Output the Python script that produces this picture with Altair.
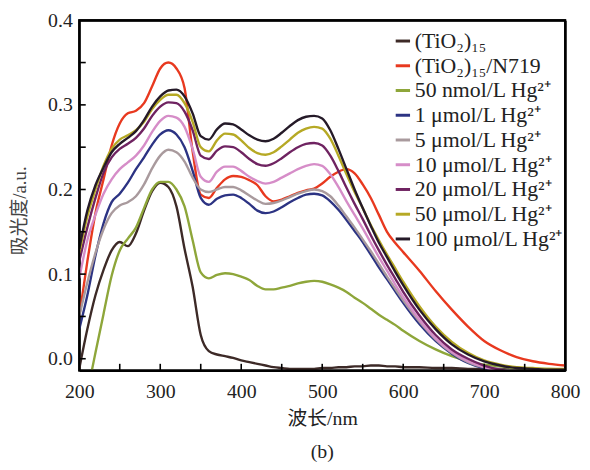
import altair as alt
import pandas as pd

NM = [200, 210, 220, 230, 240, 250, 260, 270, 280, 290, 300, 310, 320, 330, 340, 350, 360, 370, 380, 390,
      400, 410, 420, 430, 440, 450, 460, 470, 480, 490, 500, 510, 520, 530, 540, 550, 560, 570, 580, 590,
      600, 620, 640, 660, 680, 700, 720, 740, 760, 780, 800]

TIO2 = [-0.012, 0.035, 0.075, 0.105, 0.128, 0.138, 0.133, 0.148, 0.175, 0.198, 0.208, 0.203, 0.18, 0.13, 0.085, 0.028, 0.009, 0.005, 0.003, 0.001,
        -0.002, -0.004, -0.006, -0.008, -0.01, -0.011, -0.012, -0.012, -0.012, -0.012, -0.011, -0.011, -0.01, -0.01, -0.009, -0.009, -0.008, -0.008, -0.009, -0.009,
        -0.01, -0.01, -0.011, -0.011, -0.012, -0.012, -0.012, -0.013, -0.013, -0.013, -0.013]
N719 = [0.05, 0.115, 0.172, 0.212, 0.252, 0.278, 0.29, 0.293, 0.302, 0.322, 0.343, 0.35, 0.343, 0.32, 0.245, 0.194, 0.19, 0.202, 0.212, 0.216,
        0.215, 0.211, 0.205, 0.192, 0.186, 0.188, 0.192, 0.196, 0.199, 0.201, 0.207, 0.215, 0.221, 0.224, 0.219, 0.206, 0.19, 0.17, 0.15, 0.137,
        0.126, 0.104, 0.08, 0.058, 0.038, 0.021, 0.01, 0.002, -0.003, -0.006, -0.008]
HG_50N = [-0.09, -0.04, 0.007, 0.053, 0.098, 0.128, 0.142, 0.155, 0.178, 0.2, 0.209, 0.209, 0.2, 0.18, 0.14, 0.102, 0.095, 0.099, 0.101, 0.1,
          0.097, 0.093, 0.086, 0.082, 0.082, 0.084, 0.086, 0.089, 0.091, 0.092, 0.091, 0.088, 0.084, 0.079, 0.072, 0.066, 0.059, 0.052, 0.046, 0.04,
          0.033, 0.021, 0.011, 0.003, -0.003, -0.007, -0.009, -0.011, -0.012, -0.012, -0.013]
HG_1 = [0.035, 0.075, 0.122, 0.16, 0.185, 0.195, 0.208, 0.224, 0.238, 0.253, 0.265, 0.27, 0.265, 0.25, 0.222, 0.19, 0.182, 0.189, 0.193, 0.194,
        0.19, 0.183, 0.175, 0.172, 0.174, 0.179, 0.185, 0.19, 0.194, 0.195, 0.193, 0.186, 0.176, 0.164, 0.151, 0.138, 0.123, 0.108, 0.094, 0.08,
        0.066, 0.041, 0.021, 0.006, -0.005, -0.011, -0.014, -0.016, -0.016, -0.016, -0.016]
HG_5 = [0.05, 0.09, 0.125, 0.153, 0.172, 0.181, 0.185, 0.192, 0.206, 0.225, 0.24, 0.247, 0.244, 0.233, 0.214, 0.2, 0.197, 0.2, 0.203, 0.203,
        0.199, 0.193, 0.187, 0.183, 0.184, 0.187, 0.191, 0.195, 0.198, 0.2, 0.198, 0.192, 0.181, 0.168, 0.155, 0.141, 0.127, 0.112, 0.097, 0.083,
        0.069, 0.044, 0.023, 0.007, -0.004, -0.01, -0.013, -0.014, -0.015, -0.015, -0.015]
HG_10 = [0.095, 0.14, 0.17, 0.195, 0.212, 0.224, 0.232, 0.24, 0.252, 0.268, 0.281, 0.287, 0.285, 0.274, 0.248, 0.215, 0.209, 0.221, 0.227, 0.227,
         0.222, 0.215, 0.21, 0.207, 0.209, 0.214, 0.219, 0.224, 0.228, 0.23, 0.228, 0.218, 0.203, 0.186, 0.17, 0.154, 0.137, 0.12, 0.104, 0.088,
         0.073, 0.046, 0.024, 0.008, -0.003, -0.01, -0.015, -0.017, -0.017, -0.017, -0.017]
HG_20 = [0.115, 0.155, 0.19, 0.22, 0.238, 0.248, 0.254, 0.261, 0.272, 0.287, 0.298, 0.303, 0.302, 0.292, 0.27, 0.24, 0.236, 0.246, 0.251, 0.25,
         0.244, 0.236, 0.23, 0.228, 0.231, 0.237, 0.244, 0.25, 0.254, 0.255, 0.252, 0.24, 0.222, 0.202, 0.183, 0.165, 0.146, 0.128, 0.111, 0.095,
         0.079, 0.051, 0.028, 0.011, 0.0, -0.008, -0.013, -0.016, -0.017, -0.017, -0.017]
HG_50 = [0.125, 0.168, 0.2, 0.228, 0.248, 0.259, 0.264, 0.27, 0.28, 0.295, 0.306, 0.312, 0.312, 0.302, 0.28, 0.25, 0.245, 0.258, 0.266, 0.265,
         0.258, 0.249, 0.243, 0.241, 0.244, 0.251, 0.259, 0.267, 0.272, 0.274, 0.272, 0.26, 0.24, 0.218, 0.197, 0.178, 0.158, 0.14, 0.123, 0.107,
         0.091, 0.062, 0.038, 0.02, 0.007, -0.002, -0.007, -0.01, -0.011, -0.012, -0.012]
HG_100 = [0.13, 0.175, 0.205, 0.226, 0.244, 0.254, 0.261, 0.269, 0.282, 0.298, 0.31, 0.317, 0.318, 0.31, 0.29, 0.263, 0.259, 0.271, 0.278, 0.277,
          0.271, 0.264, 0.259, 0.257, 0.26, 0.267, 0.275, 0.282, 0.286, 0.287, 0.284, 0.27, 0.248, 0.224, 0.2, 0.178, 0.157, 0.137, 0.12, 0.103,
          0.087, 0.058, 0.035, 0.017, 0.005, -0.003, -0.008, -0.011, -0.012, -0.013, -0.013]

SERIES = ["(TiO₂)₁₅", "(TiO₂)₁₅/N719", "50 nmol/L Hg²⁺", "1 μmol/L Hg²⁺", "5 μmol/L Hg²⁺",
          "10 μmol/L Hg²⁺", "20 μmol/L Hg²⁺", "50 μmol/L Hg²⁺", "100 μmol/L Hg²⁺"]
VALUES = [TIO2, N719, HG_50N, HG_1, HG_5, HG_10, HG_20, HG_50, HG_100]
COLORS = ["#3d2a27", "#e8391f", "#8ea63a", "#2c3383", "#a99a9d", "#d68dc8", "#6f2361", "#b6a925", "#251a28"]

X_TICKS = [250, 300, 350, 400, 450, 500, 550, 600, 650, 700, 750]
Y_TICKS = [0.0, 0.05, 0.1, 0.15, 0.2, 0.25, 0.3, 0.35]
X_LABELS = [200, 300, 400, 500, 600, 700, 800]
Y_LABELS = [0.0, 0.1, 0.2, 0.3, 0.4]

rows = []
for s, (name, vals) in enumerate(zip(SERIES, VALUES)):
    for nm, v in zip(NM, vals):
        rows.append({"nm": nm, "abs": v, "series": name, "order": s})
df = pd.DataFrame(rows)

XMIN, XMAX = 200, 800
YMIN, YMAX = -0.014, 0.4
FONT = "'Liberation Serif', 'Times New Roman', 'Noto Sans CJK SC', serif"
FRAME = "#000000"

xscale = alt.Scale(domain=[XMIN, XMAX], nice=False, zero=False)
yscale = alt.Scale(domain=[YMIN, YMAX], nice=False, zero=False)

lines = alt.Chart(df).mark_line(strokeWidth=2.4, clip=True, interpolate="monotone").encode(
    x=alt.X("nm:Q", scale=xscale,
            axis=alt.Axis(title="波长/nm", values=X_LABELS, ticks=False, grid=False, labelFontSize=20,
                          labelFont=FONT, titleFont=FONT, titleFontSize=20, titleFontWeight="normal",
                          labelPadding=11, titlePadding=7, domain=True, domainColor=FRAME,
                          domainWidth=2, labelFlush=False, labelColor="#222", titleColor="#222")),
    y=alt.Y("abs:Q", scale=yscale,
            axis=alt.Axis(title="吸光度/a.u.", values=Y_LABELS, format=".1f", ticks=False, grid=False,
                          labelFontSize=20, labelFont=FONT, titleFont=FONT, titleFontSize=19,
                          titleFontWeight="normal", labelPadding=7, titlePadding=18, titleY=192,
                          domain=True, domainColor=FRAME, domainWidth=2,
                          labelFlush=False, labelColor="#222", titleColor="#444")),
    color=alt.Color("series:N", title=None, sort=SERIES,
                    scale=alt.Scale(domain=SERIES, range=COLORS),
                    legend=alt.Legend(orient="none", legendX=316, legendY=10, symbolType="stroke",
                                      symbolStrokeWidth=3, symbolSize=210, labelFont=FONT,
                                      labelFontSize=22, rowPadding=3, labelOffset=1, padding=0,
                                      labelColor="#222", labelLimit=300)),
    order=alt.Order("order:Q"),
)

xt = pd.DataFrame({"t": X_TICKS, "ya": [YMIN] * len(X_TICKS), "yb": [YMIN + 0.008] * len(X_TICKS)})
yt = pd.DataFrame({"t": Y_TICKS, "xa": [XMIN] * len(Y_TICKS), "xb": [XMIN + 8.0] * len(Y_TICKS)})
frame = pd.DataFrame({"xa": [XMIN], "xb": [XMAX], "ya": [YMIN], "yb": [YMAX]})

xticks = alt.Chart(xt).mark_rule(color="#000000", strokeWidth=1.6).encode(
    x=alt.X("t:Q", scale=xscale, axis=None),
    y=alt.Y("ya:Q", scale=yscale, axis=None),
    y2=alt.Y2("yb"))
yticks = alt.Chart(yt).mark_rule(color="#000000", strokeWidth=1.6).encode(
    y=alt.Y("t:Q", scale=yscale, axis=None),
    x=alt.X("xa:Q", scale=xscale, axis=None),
    x2=alt.X2("xb"))
box = alt.Chart(frame).mark_rect(fillOpacity=0, stroke=FRAME, strokeWidth=2).encode(
    x=alt.X("xa:Q", scale=xscale,
            axis=alt.Axis(orient="top", title=None, labels=False, ticks=False, grid=False,
                          domain=True, domainColor=FRAME, domainWidth=2)),
    x2=alt.X2("xb"),
    y=alt.Y("ya:Q", scale=yscale,
            axis=alt.Axis(orient="right", title=None, labels=False, ticks=False, grid=False,
                          domain=True, domainColor=FRAME, domainWidth=2)),
    y2=alt.Y2("yb"))

chart = alt.layer(lines, xticks, yticks, box).resolve_scale(
    x="independent", y="independent"
).resolve_axis(
    x="independent", y="independent"
).properties(
    width=491, height=354,
    background="white",
    autosize=alt.AutoSizeParams(type="none"),
    padding={"left": 72, "top": 10, "right": 17, "bottom": 90},
    title=alt.TitleParams("(b)", orient="bottom", anchor="middle", fontSize=20, font=FONT,
                          fontWeight="normal", offset=14, color="#222"),
).configure_view(stroke="#000000", strokeWidth=2)

chart.save("out.html", embed_options={"renderer": "svg", "actions": False})
